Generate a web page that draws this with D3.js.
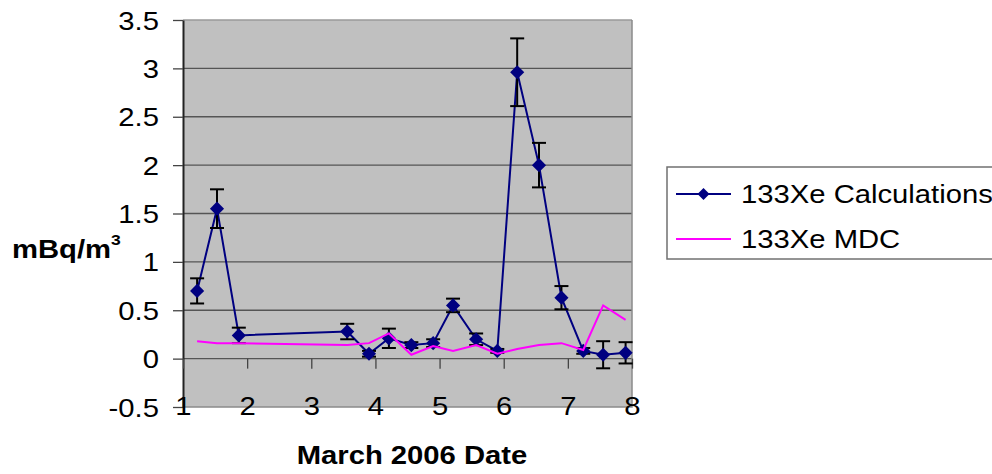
<!DOCTYPE html>
<html>
<head>
<meta charset="utf-8">
<script src="https://cdn.jsdelivr.net/npm/d3@7"></script>
<style>
  body { margin: 0; background: #fff; }
  svg { display: block; font-family: Arial, "Liberation Sans", sans-serif; }
</style>
</head>
<body>
<div id="chart"></div>
<script>

// March 2006 sample times (day of month) and values
var days = [1.22, 1.53, 1.87, 3.56, 3.90, 4.21, 4.56, 4.90, 5.21, 5.57, 5.90, 6.21, 6.55, 6.90, 7.24, 7.55, 7.90];
var calc = [0.70, 1.55, 0.24, 0.28, 0.05, 0.21, 0.14, 0.16, 0.55, 0.20, 0.08, 2.96, 2.00, 0.63, 0.08, 0.04, 0.06];
var calcErr = [0.13, 0.20, 0.08, 0.08, 0.03, 0.10, 0.03, 0.04, 0.07, 0.06, 0.02, 0.35, 0.23, 0.12, 0.03, 0.14, 0.11];
var mdc = [0.18, 0.16, 0.16, 0.14, 0.16, 0.26, 0.04, 0.13, 0.08, 0.14, 0.05, 0.10, 0.14, 0.16, 0.09, 0.55, 0.40];

var seriesNames = ["133Xe Calculations", "133Xe MDC"];
var xTicks = [1, 2, 3, 4, 5, 6, 7, 8];
var yTicks = [-0.5, 0, 0.5, 1, 1.5, 2, 2.5, 3, 3.5];

var width = 992, height = 474;
var plotLeft = 183, plotRight = 632, plotTop = 20, plotBottom = 407;
var sx = 1.17; // text in the original is a bit wide

var svg = d3.select("#chart").append("svg")
  .attr("width", width)
  .attr("height", height);

var x = d3.scaleLinear().domain([1, 8]).range([plotLeft, plotRight]);
var y = d3.scaleLinear().domain([-0.5, 3.5]).range([plotBottom, plotTop]);

var calcData = days.map(function(d, i) {
  return { day: d, value: calc[i], err: calcErr[i] };
});
var mdcData = days.map(function(d, i) {
  return { day: d, value: mdc[i] };
});

// plot area
svg.append("rect")
  .attr("x", plotLeft).attr("y", plotTop)
  .attr("width", plotRight - plotLeft).attr("height", plotBottom - plotTop)
  .attr("fill", "#c0c0c0");

// gridlines
svg.append("g").selectAll("line")
  .data(yTicks.filter(function(d) { return d > -0.5; }))
  .enter().append("line")
  .attr("x1", plotLeft).attr("x2", plotRight)
  .attr("y1", function(d) { return y(d); })
  .attr("y2", function(d) { return y(d); })
  .attr("stroke", function(d) { return d === 3.5 ? "#9a9a9a" : "#555"; })
  .attr("stroke-width", 1.3);

// right and bottom border
svg.append("path")
  .attr("d", "M" + plotRight + "," + plotTop + "V" + plotBottom + "H" + plotLeft)
  .attr("fill", "none")
  .attr("stroke", "#8a8a8a")
  .attr("stroke-width", 1.5);

// y axis
var yAxis = svg.append("g")
  .attr("transform", "translate(" + plotLeft + ",0)")
  .call(d3.axisLeft(y).tickValues(yTicks).tickSize(10).tickSizeOuter(0)
    .tickFormat(function(d) { return String(d); }));
yAxis.select(".domain").attr("stroke", "#222").attr("stroke-width", 2);
yAxis.selectAll(".tick line").attr("stroke", "#444").attr("stroke-width", 1.3);
yAxis.selectAll(".tick text")
  .attr("x", null)
  .attr("dy", "0.36em")
  .attr("transform", "translate(-24,0) scale(" + sx + ",1)")
  .attr("fill", "#000")
  .style("font-size", "25px");

// x axis tick marks on zero line
var xAxis = svg.append("g")
  .attr("transform", "translate(0," + y(0) + ")")
  .call(d3.axisBottom(x).tickValues(xTicks).tickSize(10).tickFormat(""));
xAxis.select(".domain").remove();
xAxis.selectAll(".tick line").attr("stroke", "#444").attr("stroke-width", 1.3);

// x tick labels at the bottom of the plot
var xLabels = svg.append("g")
  .attr("transform", "translate(0," + plotBottom + ")")
  .call(d3.axisBottom(x).tickValues(xTicks).tickSize(0).tickFormat(d3.format("d")));
xLabels.select(".domain").remove();
xLabels.selectAll(".tick text")
  .attr("y", null)
  .attr("dy", null)
  .attr("transform", "translate(0,8) scale(" + sx + ",1)")
  .attr("fill", "#000")
  .style("font-size", "25px");

// calculations series
var line = d3.line()
  .x(function(d) { return x(d.day); })
  .y(function(d) { return y(d.value); });

svg.append("path")
  .datum(calcData)
  .attr("d", line)
  .attr("fill", "none")
  .attr("stroke", "#000080")
  .attr("stroke-width", 2);

// error bars
var eb = svg.append("g").selectAll("g")
  .data(calcData)
  .enter().append("g")
  .attr("stroke", "#000")
  .attr("stroke-width", 2);

eb.append("line")
  .attr("x1", function(d) { return x(d.day); })
  .attr("x2", function(d) { return x(d.day); })
  .attr("y1", function(d) { return y(d.value + d.err); })
  .attr("y2", function(d) { return y(d.value - d.err); });
[1, -1].forEach(function(s) {
  eb.append("line")
    .attr("x1", function(d) { return x(d.day) - 7; })
    .attr("x2", function(d) { return x(d.day) + 7; })
    .attr("y1", function(d) { return y(d.value + s * d.err); })
    .attr("y2", function(d) { return y(d.value + s * d.err); });
});

var diamond = d3.symbol().type(d3.symbolSquare).size(100);

svg.append("g").selectAll("path")
  .data(calcData)
  .enter().append("path")
  .attr("d", diamond)
  .attr("transform", function(d) {
    return "translate(" + x(d.day) + "," + y(d.value) + ") rotate(45)";
  })
  .attr("fill", "#000080");

// MDC series
svg.append("path")
  .datum(mdcData)
  .attr("d", line)
  .attr("fill", "none")
  .attr("stroke", "#ff00ff")
  .attr("stroke-width", 2);

// axis titles
var yTitle = svg.append("text")
  .attr("transform", "translate(12,258) scale(" + sx + ",1)")
  .style("font-size", "25px")
  .style("font-weight", "bold");
yTitle.append("tspan").text("mBq/m");
yTitle.append("tspan").attr("dy", -13).style("font-size", "15px").text("3");

svg.append("text")
  .attr("transform", "translate(412,464) scale(" + sx + ",1)")
  .attr("text-anchor", "middle")
  .style("font-size", "25px")
  .style("font-weight", "bold")
  .text("March 2006 Date");

// legend
var legend = svg.append("g");
legend.append("rect")
  .attr("x", 667).attr("y", 167)
  .attr("width", 360).attr("height", 92)
  .attr("fill", "#fff")
  .attr("stroke", "#707070")
  .attr("stroke-width", 1.5);

var rows = legend.selectAll("g.row")
  .data(seriesNames)
  .enter().append("g")
  .attr("class", "row")
  .attr("transform", function(d, i) { return "translate(0," + (194 + i * 45) + ")"; });

rows.append("line")
  .attr("x1", 676).attr("x2", 731)
  .attr("stroke", function(d, i) { return i === 0 ? "#000080" : "#ff00ff"; })
  .attr("stroke-width", 2);

rows.filter(function(d, i) { return i === 0; })
  .append("path")
  .attr("d", d3.symbol().type(d3.symbolSquare).size(72))
  .attr("transform", "translate(703.5,0) rotate(45)")
  .attr("fill", "#000080");

rows.append("text")
  .attr("transform", "translate(741,0) scale(" + sx + ",1)")
  .attr("dy", "0.36em")
  .style("font-size", "25px")
  .text(function(d) { return d; });

</script>
</body>
</html>
